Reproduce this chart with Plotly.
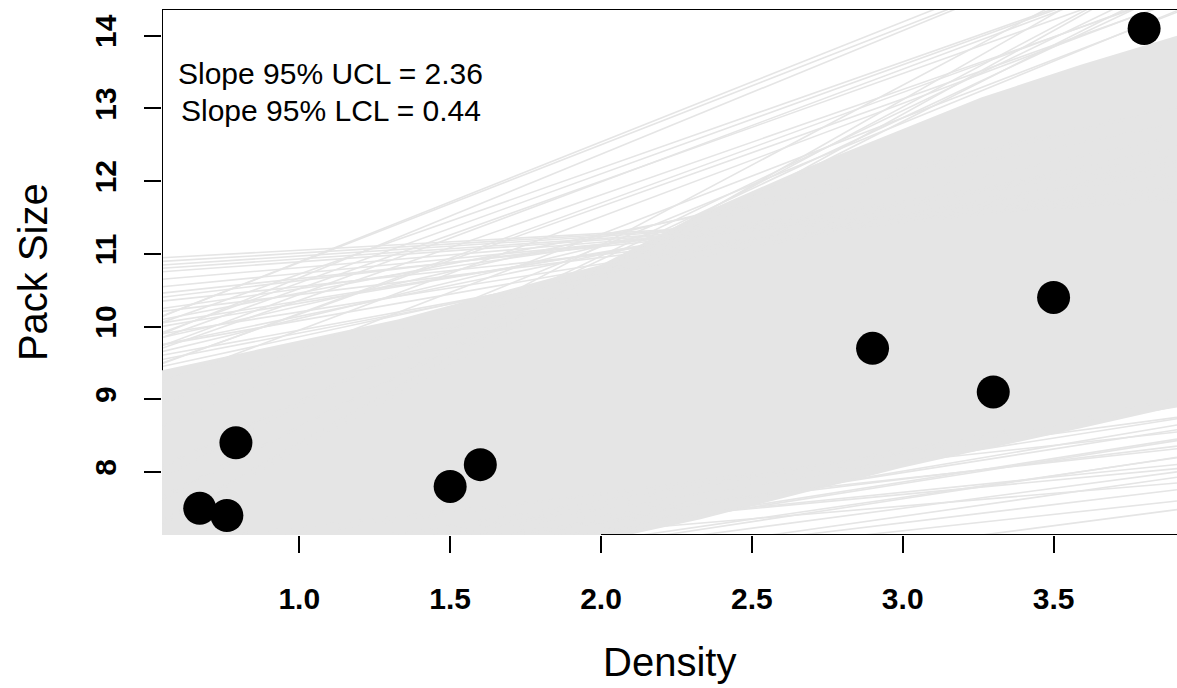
import plotly.graph_objects as go

# ---- data ----
density = [0.67, 0.76, 0.79, 1.5, 1.6, 2.9, 3.3, 3.5, 3.8]
pack_size = [7.5, 7.4, 8.4, 7.8, 8.1, 9.7, 9.1, 10.4, 14.1]

# bootstrap regression lines (intercept, slope)
boot_intercepts = [
    # steep upper lines (bundles)
    9.24, 9.26, 8.97,
    9.26, 9.10, 8.89, 9.04,
    8.91, 8.66, 8.69, 8.39,
    8.07, 7.70,
    6.02, 6.04, 6.42, 6.52, 6.97, 6.72, 7.02,
    # flat upper-left lines
    10.82, 10.76, 10.65, 10.22, 10.11, 9.93, 9.69, 9.54, 9.35, 9.19,
    8.96, 9.11, 9.11, 9.29, 9.33, 9.62, 9.66, 9.92, 10.13, 10.33, 10.46, 10.59, 10.70,
    # shallow lower-right lines
    5.37, 5.62, 6.56, 5.74, 5.89, 6.04, 6.19, 6.52, 6.24, 6.03,
    5.84, 5.80, 6.48, 5.85, 6.46, 5.85, 6.40, 5.91, 6.79, 5.91, 6.60,
]
boot_slopes = [
    1.65, 1.62, 1.70,
    1.46, 1.50, 1.55, 1.48,
    1.45, 1.52, 1.48, 1.56,
    1.60, 1.70,
    2.30, 2.36, 2.20, 2.10, 2.00, 2.20, 1.95,
    0.23, 0.25, 0.28, 0.44, 0.44, 0.51, 0.66, 0.66, 0.73, 0.76,
    0.90, 0.80, 1.00, 0.85, 0.95, 0.70, 0.80, 0.60, 0.50, 0.40, 0.35, 0.30, 0.27,
    0.54, 0.59, 0.45, 0.63, 0.65, 0.65, 0.65, 0.39, 0.68, 0.76,
    0.45, 0.50, 0.35, 0.55, 0.42, 0.60, 0.50, 0.65, 0.45, 0.70, 0.55,
]

# envelope of the dense core of bootstrap lines
core_x = [0.545, 1.33, 2.0, 2.33, 2.66, 2.99, 3.26, 3.59, 3.909]
core_upper = [9.4, 10.1, 10.85, 11.55, 12.15, 12.7, 13.15, 13.6, 14.0]
core_lower = [7.0, 7.0, 7.05, 7.35, 7.7, 8.05, 8.3, 8.6, 8.9]

ucl_text = "Slope 95% UCL = 2.36"
lcl_text = "Slope 95% LCL = 0.44"

x_range = [0.545, 3.909]
y_range = [7.132, 14.368]
x_ticks = [1.0, 1.5, 2.0, 2.5, 3.0, 3.5]
y_ticks = [8, 9, 10, 11, 12, 13, 14]

LINE_COL = "#e5e5e5"
FONT = "Liberation Sans, Arial, sans-serif"

fig = go.Figure()

# dense core
fig.add_trace(go.Scatter(
    x=core_x + core_x[::-1],
    y=core_upper + core_lower[::-1],
    fill="toself", fillcolor=LINE_COL, mode="none",
    hoverinfo="skip", showlegend=False))

# individual lines
lx, ly = [], []
for a, b in zip(boot_intercepts, boot_slopes):
    lx += [x_range[0], x_range[1], None]
    ly += [a + b * x_range[0], a + b * x_range[1], None]
fig.add_trace(go.Scatter(x=lx, y=ly, mode="lines",
                         line=dict(color=LINE_COL, width=1.6),
                         hoverinfo="skip", showlegend=False))

# points
fig.add_trace(go.Scatter(x=density, y=pack_size, mode="markers",
                         marker=dict(color="black", size=33),
                         showlegend=False))

axis_common = dict(showgrid=False, zeroline=False, showline=False,
                   ticks="outside", ticklen=17, tickwidth=1.5, tickcolor="black",
                   tickfont=dict(family=FONT, size=30, color="black", weight="bold"))

fig.update_xaxes(range=x_range, tickvals=x_ticks, ticktext=[f"{v:.1f}" for v in x_ticks],
                 ticklabelstandoff=20, **axis_common)
fig.update_yaxes(range=y_range, tickvals=y_ticks, ticktext=[str(v) for v in y_ticks],
                 tickangle=-90, ticklabelstandoff=16, **axis_common)

# plot box (visible parts)
box = dict(type="line", line=dict(color="black", width=2), layer="above")
fig.add_shape(x0=x_range[0], x1=x_range[1], y0=y_range[1], y1=y_range[1], xref="x", yref="y", **box)
fig.add_shape(x0=x_range[0], x1=x_range[0], y0=9.4, y1=y_range[1], xref="x", yref="y", **box)
fig.add_shape(x0=2.0, x1=x_range[1], y0=y_range[0], y1=y_range[0], xref="x", yref="y", **box)

fig.add_annotation(x=1.105, y=13.48, xref="x", yref="y", text=ucl_text, showarrow=False,
                   font=dict(family=FONT, size=30, color="black"))
fig.add_annotation(x=1.105, y=12.97, xref="x", yref="y", text=lcl_text, showarrow=False,
                   font=dict(family=FONT, size=30, color="black"))

fig.add_annotation(x=0.5, y=-0.241, xref="paper", yref="paper", text="Density",
                   showarrow=False, yanchor="middle",
                   font=dict(family=FONT, size=40, color="black"))
fig.add_annotation(x=-0.127, y=0.5, xref="paper", yref="paper", text="Pack Size",
                   showarrow=False, textangle=-90, xanchor="center",
                   font=dict(family=FONT, size=40, color="black"))

fig.update_layout(width=1177, height=688, margin=dict(l=162, r=0, t=9, b=153),
                  plot_bgcolor="white", paper_bgcolor="white")

fig.write_html("out.html")
